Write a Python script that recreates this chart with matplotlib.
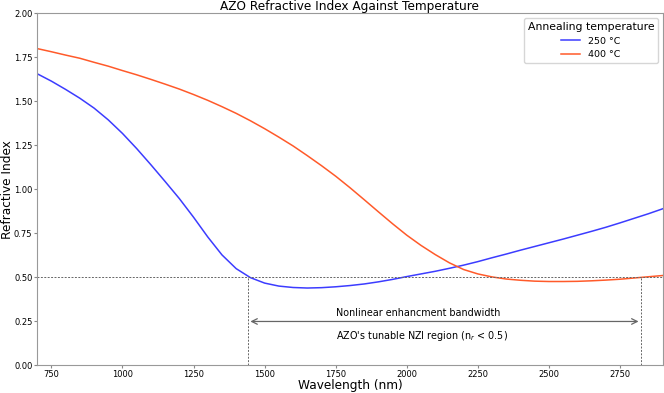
import matplotlib
matplotlib.use('Agg')
import matplotlib.pyplot as plt

wavelength = [700, 750, 800, 850, 900, 950, 1000, 1050, 1100, 1150, 1200, 1250, 1300,
              1350, 1400, 1450, 1500, 1550, 1600, 1650, 1700, 1750, 1800, 1850, 1900,
              1950, 2000, 2050, 2100, 2150, 2200, 2250, 2300, 2350, 2400, 2450, 2500,
              2550, 2600, 2650, 2700, 2750, 2800, 2850, 2900]
n_250 = [1.657, 1.615, 1.568, 1.518, 1.462, 1.395, 1.318, 1.232, 1.140, 1.045, 0.948,
         0.842, 0.730, 0.628, 0.550, 0.499, 0.468, 0.451, 0.443, 0.440, 0.442, 0.447,
         0.454, 0.463, 0.475, 0.489, 0.505, 0.520, 0.535, 0.552, 0.570, 0.590, 0.612,
         0.633, 0.655, 0.676, 0.697, 0.718, 0.740, 0.762, 0.785, 0.810, 0.836, 0.862, 0.890]
n_400 = [1.800, 1.782, 1.763, 1.745, 1.722, 1.700, 1.675, 1.651, 1.625, 1.598, 1.570,
         1.539, 1.506, 1.470, 1.432, 1.390, 1.345, 1.297, 1.247, 1.192, 1.135, 1.075,
         1.010, 0.942, 0.873, 0.805, 0.740, 0.682, 0.630, 0.583, 0.545, 0.520, 0.503,
         0.491, 0.484, 0.479, 0.477, 0.477, 0.478, 0.481, 0.485, 0.490, 0.497, 0.504, 0.511]
labels = ['250 °C', '400 °C']

nzi_start = 1440
nzi_end = 2825
threshold = 0.5

fig, ax = plt.subplots(figsize=(6.64, 3.93), dpi=100)
fig.subplots_adjust(left=0.056, right=0.998, top=0.966, bottom=0.07)

ax.plot(wavelength, n_250, color='#3c3cff', linewidth=1.1, label=labels[0])
ax.plot(wavelength, n_400, color='#ff5a2a', linewidth=1.1, label=labels[1])

dash = (0, (2, 1.5))
ax.axhline(threshold, color='#666666', linestyle=dash, linewidth=0.7)
ax.vlines([nzi_start, nzi_end], 0, threshold, color='#666666', linestyle=dash, linewidth=0.7)
ax.annotate('', xy=(nzi_start, 0.25), xytext=(nzi_end, 0.25),
            arrowprops=dict(arrowstyle='<->', color='#666666', lw=0.9))
ax.text(1750, 0.298, 'Nonlinear enhancment bandwidth', fontsize=6.9, ha='left', va='center')
ax.text(1750, 0.169, "AZO's tunable NZI region (n$_r$ < 0.5)", fontsize=6.9,
        ha='left', va='center')

ax.set_xlim(700, 2900)
ax.set_ylim(0, 2.0)
ax.set_yticks([0, 0.25, 0.5, 0.75, 1.0, 1.25, 1.5, 1.75, 2.0])
ax.set_title('AZO Refractive Index Against Temperature', fontsize=8.7, pad=2)
ax.set_xlabel('Wavelength (nm)', fontsize=8.7, labelpad=0)
ax.set_ylabel('Refractive Index', fontsize=8.7, labelpad=0)
ax.tick_params(labelsize=6, color='#888888', length=2.2, pad=1.2)
for s in ax.spines.values():
    s.set_color('#999999')

ax.legend(title='Annealing temperature', loc='upper right', fontsize=6.8,
          title_fontsize=7.8)

fig.savefig('out.png', dpi=100)
